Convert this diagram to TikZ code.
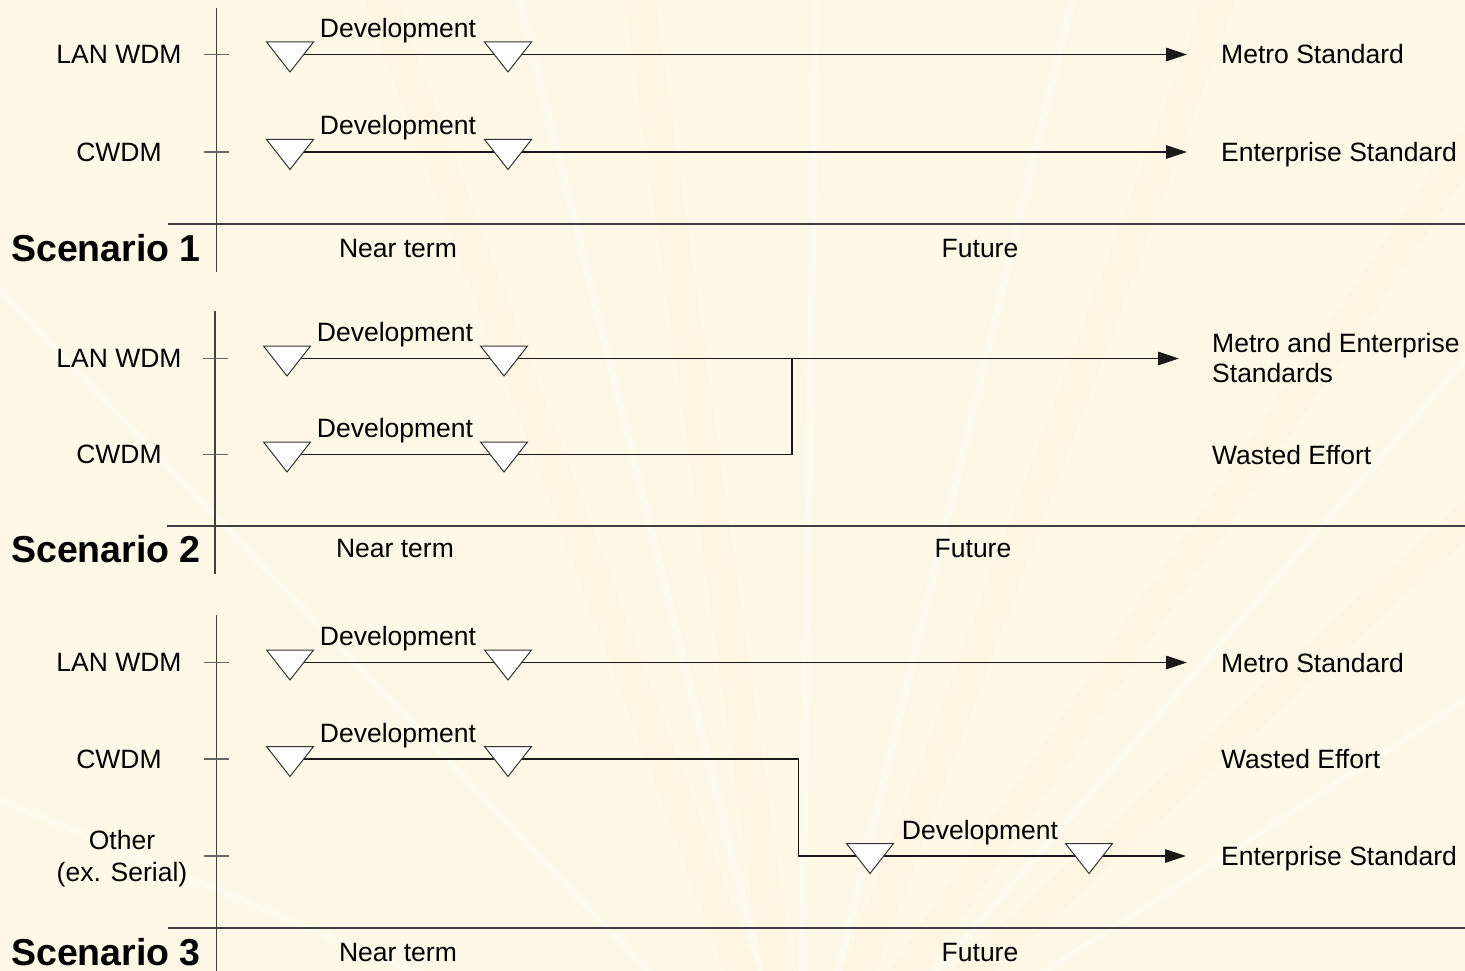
\documentclass[tikz,border=0pt]{standalone}
\usepackage{fontspec}
\setmainfont{Liberation Sans}
\usetikzlibrary{arrows.meta,calc}
\definecolor{bgcol}{RGB}{255,248,231}
\newcommand{\devtri}[1]{\draw[tribox] (#1) ++(-23.5,-12.5) -- ++(47,0) -- ++(-23.5,30) -- cycle;}
\begin{document}
\begin{tikzpicture}[x=1pt,y=-1pt,
  ln/.style={line width=1.2pt, draw=black!90},
  arr/.style={ln, -{Triangle[length=21pt,width=13.5pt]}},
  axisln/.style={line width=1.2pt, draw=black!75},
  tickln/.style={line width=1.2pt, draw=black!60},
  tribox/.style={draw=black!80, fill=white, line width=1pt, line join=miter},
  lbl/.style={font=\fontsize{26.5}{30}\selectfont, inner sep=0pt},
  rowlbl/.style={lbl, anchor=base},
  dev/.style={lbl, anchor=base},
  endlbl/.style={lbl, anchor=base west},
  scen/.style={font=\fontsize{37.5}{40}\selectfont\bfseries, inner sep=0pt, anchor=base west},
  ray/.style={draw=white, draw opacity=0.3, line width=7pt},
  dray/.style={draw={rgb,255:red,250;green,238;blue,210}, draw opacity=0.18, line width=30pt}
]
\fill[bgcol] (0,0) rectangle (1465,971);
\useasboundingbox (0,0) rectangle (1465,971);
% faint background rays
\begin{scope}
  \clip (0,0) rectangle (1465,971);
  \coordinate (C) at (800,1130);
  \foreach \a/\b in {380/0, 640/0, 1220/0, 1465/150, 1465/520}
    \draw[dray] (C) -- ($(C)!3!(\a,\b)$);
  \foreach \a/\b in {0/800, 200/500, 520/0, 816/0, 1000/300, 1465/360, 1465/700}
    \draw[ray] (C) -- ($(C)!3!(\a,\b)$);
\end{scope}

% ================= Scenario 1 =================
\coordinate (s1ax1) at (216.5,8);
\coordinate (s1ax2) at (216.5,272);
\draw[axisln] (s1ax1) -- (s1ax2);
\coordinate (s1h1) at (168,224);
\coordinate (s1h2) at (1465,224);
\draw[axisln] (s1h1) -- (s1h2);
\coordinate (s1t1a) at (204,54.5); \coordinate (s1t1b) at (229,54.5);
\coordinate (s1t2a) at (204,152); \coordinate (s1t2b) at (229,152);
\draw[tickln] (s1t1a) -- (s1t1b);
\draw[tickln] (s1t2a) -- (s1t2b);
\node[rowlbl] (s1l1) at (119,63.5) {LAN WDM};
\node[rowlbl] (s1l2) at (119,161) {CWDM};
\node[scen] (s1sc) at (11,261) {Scenario 1};
\node[lbl, anchor=base] (s1near) at (398,257.5) {Near term};
\node[lbl, anchor=base] (s1fut) at (980,257.5) {Future};
% LAN WDM row
\coordinate (s1a1) at (290,54.5);
\coordinate (s1a2) at (508,54.5);
\coordinate (s1ae) at (1187,54.5);
\draw[ln] (s1a1) -- (s1a2);
\draw[arr] (s1a2) -- (s1ae);
\devtri{s1a1}
\devtri{s1a2}
\node[dev] (s1d1) at (398,37.5) {Development};
\node[endlbl] (s1m) at (1221,64) {Metro Standard};
% CWDM row
\coordinate (s1b1) at (290,152);
\coordinate (s1b2) at (508,152);
\coordinate (s1be) at (1187,152);
\draw[ln] (s1b1) -- (s1b2);
\draw[arr] (s1b2) -- (s1be);
\devtri{s1b1}
\devtri{s1b2}
\node[dev] (s1d2) at (398,135) {Development};
\node[endlbl] (s1e) at (1221,161.5) {Enterprise Standard};

% ================= Scenario 2 =================
\coordinate (s2ax1) at (215,311);
\coordinate (s2ax2) at (215,574);
\draw[axisln] (s2ax1) -- (s2ax2);
\coordinate (s2h1) at (167,526);
\coordinate (s2h2) at (1465,526);
\draw[axisln] (s2h1) -- (s2h2);
\coordinate (s2t1a) at (203,358.5); \coordinate (s2t1b) at (228,358.5);
\coordinate (s2t2a) at (203,454.5); \coordinate (s2t2b) at (228,454.5);
\draw[tickln] (s2t1a) -- (s2t1b);
\draw[tickln] (s2t2a) -- (s2t2b);
\node[rowlbl] (s2l1) at (119,367.5) {LAN WDM};
\node[rowlbl] (s2l2) at (119,463.5) {CWDM};
\node[scen] (s2sc) at (11,562) {Scenario 2};
\node[lbl, anchor=base] (s2near) at (395,557.5) {Near term};
\node[lbl, anchor=base] (s2fut) at (973,557.5) {Future};
% LAN WDM row
\coordinate (s2a1) at (287,358.5);
\coordinate (s2a2) at (504,358.5);
\coordinate (s2ae) at (1179,358.5);
\draw[ln] (s2a1) -- (s2a2);
\draw[arr] (s2a2) -- (s2ae);
% CWDM row, merging into LAN WDM line
\coordinate (s2b1) at (287,454.5);
\coordinate (s2b2) at (504,454.5);
\coordinate (s2j) at (792,358.5);
\draw[ln] (s2b1) -- (s2b2);
\draw[ln] (s2b2) -- (s2j |- s2b2) -- (s2j);
\devtri{s2a1}
\devtri{s2a2}
\devtri{s2b1}
\devtri{s2b2}
\node[dev] (s2d1) at (395,341.5) {Development};
\node[dev] (s2d2) at (395,437.5) {Development};
\node[lbl, anchor=west, align=left] (s2me) at (1212,358) {Metro and Enterprise\\Standards};
\node[endlbl] (s2w) at (1212,464) {Wasted Effort};

% ================= Scenario 3 =================
\coordinate (s3ax1) at (216.5,615);
\coordinate (s3ax2) at (216.5,975);
\draw[axisln] (s3ax1) -- (s3ax2);
\coordinate (s3h1) at (168,928);
\coordinate (s3h2) at (1465,928);
\draw[axisln] (s3h1) -- (s3h2);
\coordinate (s3t1a) at (204,662.5); \coordinate (s3t1b) at (229,662.5);
\coordinate (s3t2a) at (204,759); \coordinate (s3t2b) at (229,759);
\coordinate (s3t3a) at (204,856); \coordinate (s3t3b) at (229,856);
\draw[tickln] (s3t1a) -- (s3t1b);
\draw[tickln] (s3t2a) -- (s3t2b);
\draw[tickln] (s3t3a) -- (s3t3b);
\node[rowlbl] (s3l1) at (119,671.5) {LAN WDM};
\node[rowlbl] (s3l2) at (119,768) {CWDM};
\node[lbl, align=center, font=\fontsize{26.5}{32}\selectfont] (s3l3) at (122,858.5) {Other\\(ex. Serial)};
\node[scen] (s3sc) at (11,965) {Scenario 3};
\node[lbl, anchor=base] (s3near) at (398,961.5) {Near term};
\node[lbl, anchor=base] (s3fut) at (980,961.5) {Future};
% LAN WDM row
\coordinate (s3a1) at (290,662.5);
\coordinate (s3a2) at (508,662.5);
\coordinate (s3ae) at (1187,662.5);
\draw[ln] (s3a1) -- (s3a2);
\draw[arr] (s3a2) -- (s3ae);
% CWDM row, switching to Other
\coordinate (s3b1) at (290,759);
\coordinate (s3b2) at (508,759);
\coordinate (s3j) at (798.5,856);
\coordinate (s3c1) at (870,856);
\coordinate (s3c2) at (1089,856);
\coordinate (s3ce) at (1186,856);
\draw[ln] (s3b1) -- (s3b2);
\draw[ln] (s3b2) -- (s3j |- s3b2) -- (s3j) -- (s3c1);
\draw[ln] (s3c1) -- (s3c2);
\draw[arr] (s3c2) -- (s3ce);
\devtri{s3a1}
\devtri{s3a2}
\devtri{s3b1}
\devtri{s3b2}
\devtri{s3c1}
\devtri{s3c2}
\node[dev] (s3d1) at (398,645.5) {Development};
\node[dev] (s3d2) at (398,742) {Development};
\node[dev] (s3d3) at (980,839) {Development};
\node[endlbl] (s3m) at (1221,672) {Metro Standard};
\node[endlbl] (s3w) at (1221,768.5) {Wasted Effort};
\node[endlbl] (s3e) at (1221,865.5) {Enterprise Standard};
\end{tikzpicture}
\end{document}
